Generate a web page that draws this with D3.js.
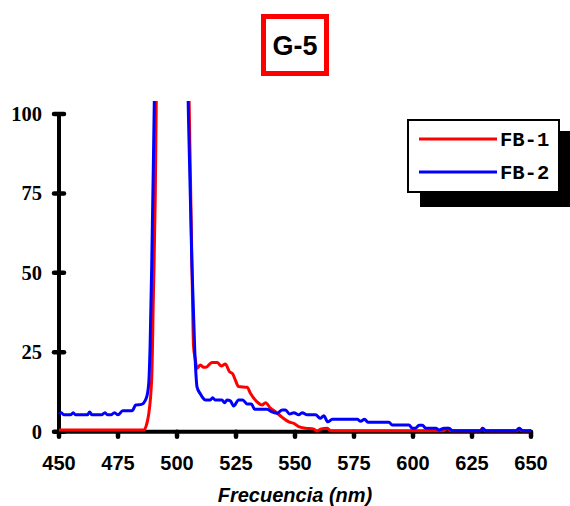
<!DOCTYPE html>
<html>
<head>
<meta charset="utf-8">
<script src="https://cdn.jsdelivr.net/npm/d3@7/dist/d3.min.js"></script>
<style>
  body { margin: 0; background: #fff; }
  .line { fill: none; stroke-width: 3; stroke-linejoin: round; }
</style>
</head>
<body>
<div id="chart"></div>
<script>
// wavelength (nm) / intensity readings
var fb1 = [
  [450,0.5],[486,0.5],[487,2],[487.9,5],[489.3,17],[490,43],[490.8,74.5],[491.3,110],[493,220],[500,260],
  [503.5,200],[505,110],[505.7,80],[506.5,45],[507,27],[507.7,23],[508.5,20],[509.9,21],[511.3,20.3],
  [512.3,20.3],[514.8,21.8],[517,21.8],[518.8,20.7],[520.5,21.3],[522.2,18.9],[523.6,18.2],[524.7,16.3],
  [526.1,14.2],[529.7,14],[531.1,12.1],[533.9,9.4],[536,8.4],[537.5,9.1],[539.6,7.4],[541.7,6.3],
  [544.6,4.5],[547.4,3.1],[549.5,2.6],[551.6,1.6],[554.5,1.1],[558,0.8],[559.4,0.2],[560.8,0.8],
  [563.7,1.1],[565,0.3],[613,0.3],[614.5,1.1],[616,0.3],[628.5,0.3],[629.5,1.1],[630.5,0.3],
  [644,0.3],[645,1.1],[646,0.3],[650,0.3]
];
var fb2 = [
  [450,5.5],[451,6],[452,5.3],[455,5.3],[456,6],[457,5.3],[462,5.3],[463,6.2],[464,5.3],[468,5.3],
  [469.5,6],[470.5,5.3],[472,5.3],[473.5,6],[475,5.3],[477,6.6],[481,6.6],[482.5,8.4],[485,8.6],
  [487,10.6],[488,15],[488.6,27],[489.3,53],[490,85],[490.5,110],[492,200],[500,250],[503.5,200],
  [504.6,110],[505.3,85],[506.3,53],[507.5,26],[508.5,14],[509.8,12],[511,10.6],[512,10],[514.1,10],
  [515.1,10.7],[516.2,10],[519,10],[520.2,9.1],[521.2,10],[522.6,9.7],[524,8.1],[526.1,10],[527.8,10],
  [529.7,8.7],[531.5,8.7],[532.9,7.1],[538.2,7.1],[540,6.3],[542.4,5.8],[544.6,6.8],[546,6.8],
  [547.7,5.6],[549.5,6],[551.6,5.3],[553,6],[555.2,5.3],[558.7,5.3],[560.8,4.2],[562.2,5],[563.9,3.1],
  [565.8,3.9],[576.4,3.9],[577.8,3.3],[579.5,3.9],[580.9,3],[589.8,3],[591.2,2.1],[598.3,2.1],
  [599.7,1.1],[601,1.1],[602.6,2],[604,2],[605.4,1.1],[609.7,1.1],[611,0.5],[613.2,1.1],[615.3,1.1],
  [616.7,0.3],[628.8,0.3],[629.5,1.1],[630.9,0.3],[643.6,0.3],[645,1.1],[646.5,0.3],[650,0.3]
];
var seriesNames = ["FB-1", "FB-2"];
var seriesColors = ["#ff0000", "#0000ff"];
var xTicks = [450, 475, 500, 525, 550, 575, 600, 625, 650];
var yTicks = [0, 25, 50, 75, 100];

var svg = d3.select("#chart").append("svg")
    .attr("width", 570)
    .attr("height", 506);

var x = d3.scaleLinear().domain([450, 650]).range([59, 531]);
var y = d3.scaleLinear().domain([0, 100]).range([431.7, 114]);

// title box
svg.append("rect")
    .attr("x", 263.5).attr("y", 16.5)
    .attr("width", 63).attr("height", 57)
    .attr("fill", "#fff")
    .attr("stroke", "#ff0000")
    .attr("stroke-width", 5);
svg.append("text")
    .attr("x", 295).attr("y", 55)
    .attr("text-anchor", "middle")
    .style("font", "bold 27px 'Liberation Sans', Arial, sans-serif")
    .text("G-5");

// axes
var axes = svg.append("g");
axes.append("line")
    .attr("x1", x(450)).attr("x2", x(450))
    .attr("y1", y(100)).attr("y2", y(0))
    .attr("stroke", "#000").attr("stroke-width", 4);
axes.append("line")
    .attr("x1", x(450)).attr("x2", x(650))
    .attr("y1", y(0)).attr("y2", y(0))
    .attr("stroke", "#000").attr("stroke-width", 4);
axes.selectAll(".ytick").data(yTicks).enter().append("line")
    .attr("class", "ytick")
    .attr("x1", x(450) - 5).attr("x2", x(450) + 5)
    .attr("y1", function(d) { return y(d); })
    .attr("y2", function(d) { return y(d); })
    .attr("stroke", "#000").attr("stroke-width", 4.5)
    .attr("stroke-linecap", "round");
axes.selectAll(".xtick").data(xTicks).enter().append("line")
    .attr("class", "xtick")
    .attr("x1", function(d) { return x(d); })
    .attr("x2", function(d) { return x(d); })
    .attr("y1", y(0)).attr("y2", y(0) + 5)
    .attr("stroke", "#000").attr("stroke-width", 4.5)
    .attr("stroke-linecap", "round");
axes.selectAll(".ylab").data(yTicks).enter().append("text")
    .attr("class", "ylab")
    .attr("x", 42)
    .attr("y", function(d) { return y(d) + 7; })
    .attr("text-anchor", "end")
    .style("font", "bold 20.5px 'Liberation Serif', 'Times New Roman', serif")
    .text(function(d) { return d; });
axes.selectAll(".xlab").data(xTicks).enter().append("text")
    .attr("class", "xlab")
    .attr("x", function(d) { return x(d); })
    .attr("y", 470)
    .attr("text-anchor", "middle")
    .style("font", "bold 20px 'Liberation Sans', Arial, sans-serif")
    .text(function(d) { return d; });
svg.append("text")
    .attr("x", 295).attr("y", 502)
    .attr("text-anchor", "middle")
    .style("font", "italic bold 20px 'Liberation Sans', Arial, sans-serif")
    .text("Frecuencia (nm)");

// clip peaks at the top of the plot
svg.append("clipPath").attr("id", "plotclip")
  .append("rect")
    .attr("x", 55).attr("y", 101)
    .attr("width", 480).attr("height", 335);

var line = d3.line()
    .x(function(d) { return x(d[0]); })
    .y(function(d) { return y(d[1]); })
    .curve(d3.curveMonotoneX);

svg.append("g").attr("clip-path", "url(#plotclip)")
  .selectAll(".line").data([fb1, fb2]).enter().append("path")
    .attr("class", "line")
    .attr("d", line)
    .attr("stroke", function(d, i) { return seriesColors[i]; });

// legend with shadow
var legend = svg.append("g");
legend.append("rect")
    .attr("x", 420).attr("y", 131)
    .attr("width", 152).attr("height", 76)
    .attr("fill", "#000");
legend.append("rect")
    .attr("x", 408).attr("y", 120)
    .attr("width", 151).attr("height", 72)
    .attr("fill", "#fff")
    .attr("stroke", "#000")
    .attr("stroke-width", 2);
var items = legend.selectAll(".legend-item").data(seriesNames).enter().append("g")
    .attr("class", "legend-item")
    .attr("transform", function(d, i) { return "translate(0," + (139 + i * 33) + ")"; });
items.append("line")
    .attr("x1", 419).attr("x2", 497)
    .attr("stroke", function(d, i) { return seriesColors[i]; })
    .attr("stroke-width", 3);
items.append("text")
    .attr("x", 500).attr("y", 7)
    .style("font", "bold 20.5px 'Liberation Mono', 'Courier New', monospace")
    .text(function(d) { return d; });
</script>
</body>
</html>
